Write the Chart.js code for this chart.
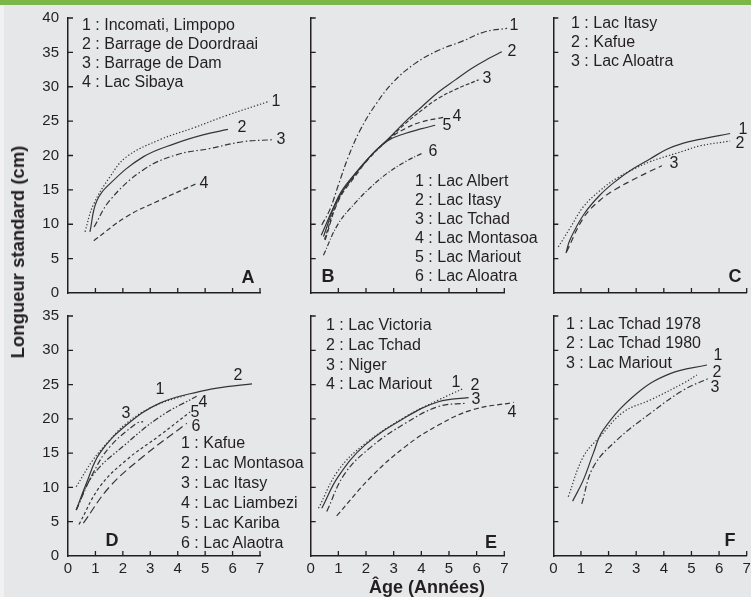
<!DOCTYPE html>
<html>
<head>
<meta charset="utf-8">
<script src="https://cdn.jsdelivr.net/npm/chart.js@4.4.1/dist/chart.umd.min.js"></script>
<style>
  html, body { margin:0; padding:0; }
  body { width:751px; height:597px; overflow:hidden; position:relative; background:#e6e7e8;
         font-family:"Liberation Sans", Arial, Helvetica, sans-serif; color:#231f20; }
  #topbar { position:absolute; left:0; top:0; width:751px; height:5px; background:#7ab648; }
  #leftstrip { position:absolute; left:0; top:5px; width:4px; height:592px; background:#f1f1f2; }
  canvas { position:absolute; left:0; top:0; }
  .leg { position:absolute; font-size:16px; white-space:nowrap; }
  .c { position:absolute; transform:translate(-50%,-50%); white-space:nowrap; font-size:16px; }
  .p { position:absolute; transform:translate(-50%,-50%); font-weight:bold; font-size:18px; }
  .ttl { position:absolute; font-weight:bold; font-size:18px; white-space:nowrap; transform:translate(-50%,-50%); }
</style>
</head>
<body>
<div id="topbar"></div>
<div id="leftstrip"></div>
<canvas id="cA" width="800" height="597"></canvas>
<canvas id="cB" width="800" height="597"></canvas>
<canvas id="cC" width="800" height="597"></canvas>
<canvas id="cD" width="800" height="597"></canvas>
<canvas id="cE" width="800" height="597"></canvas>
<canvas id="cF" width="800" height="597"></canvas>
<div id="texts"></div>
<script>
// ---------- DATA (age in years, standard length in cm) ----------
const xTicks = [0, 1, 2, 3, 4, 5, 6, 7];
const yTicksTop = [0, 5, 10, 15, 20, 25, 30, 35, 40];
const yTicksBottom = [0, 5, 10, 15, 20, 25, 30, 35];

// Panel A
const legendA = ["1 : Incomati, Limpopo", "2 : Barrage de Doordraai", "3 : Barrage de Dam", "4 : Lac Sibaya"];
const A1 = [[0.62,8.9],[0.92,12.8],[1.53,16.9],[2.13,19.8],[3.35,22.3],[4.56,24.0],[5.77,25.8],[7.35,27.9]];
const A2 = [[0.8,8.9],[1.04,13.3],[1.53,15.9],[2.74,19.8],[3.95,21.8],[4.92,23.0],[5.83,23.8]];
const A3 = [[0.95,9.6],[1.53,13.5],[2.74,17.9],[3.95,20.1],[5.16,21.0],[6.37,22.0],[7.47,22.3]];
const A4 = [[0.94,7.6],[2.13,11.1],[3.35,13.5],[4.68,15.9]];

// Panel B
const legendB = ["1 : Lac Albert", "2 : Lac Itasy", "3 : Lac Tchad", "4 : Lac Montasoa", "5 : Lac Mariout", "6 : Lac Aloatra"];
const B1 = [[0.4,9.9],[0.7,12.2],[1.0,15.7],[1.36,19.8],[1.79,23.7],[2.33,27.3],[2.99,30.7],[3.78,33.4],[4.62,35.3],[5.47,36.6],[6.3,38.0],[7.1,38.5]];
const B2 = [[0.46,8.2],[1.0,14.0],[1.61,17.4],[2.2,20.1],[2.8,22.4],[3.41,24.9],[4.02,27.1],[4.61,29.2],[5.23,31.0],[5.83,32.7],[6.43,34.1],[6.91,35.1]];
const B3 = [[0.5,7.8],[1.0,13.6],[1.61,17.2],[2.2,20.0],[2.8,22.3],[3.41,24.6],[4.02,26.6],[4.61,28.3],[5.23,29.6],[6.07,31.0]];
const B4 = [[0.52,7.7],[1.0,13.4],[1.61,17.0],[2.2,20.0],[2.8,22.3],[3.41,23.9],[4.02,24.9],[4.87,25.6]];
const B5 = [[0.38,8.4],[1.0,13.8],[1.61,17.3],[2.2,20.1],[2.8,22.2],[3.41,23.2],[4.02,23.9],[4.5,24.4]];
const B6 = [[0.46,5.5],[1.0,10.1],[1.61,13.1],[2.2,15.5],[2.8,17.5],[3.42,19.1],[4.02,20.3]];

// Panel C
const legendC = ["1 : Lac Itasy", "2 : Kafue", "3 : Lac Aloatra"];
const C1 = [[0.46,5.8],[0.6,7.7],[1.09,11.35],[1.69,14.25],[2.3,16.4],[2.9,18.1],[3.5,19.5],[4.11,20.9],[4.71,21.8],[5.3,22.35],[6.4,23.2]];
const C2 = [[0.18,6.7],[0.6,9.4],[1.09,12.55],[1.69,14.9],[2.3,16.7],[2.9,18.0],[3.5,19.1],[4.11,19.9],[4.71,20.65],[5.3,21.4],[6.4,22.1]];
const C3 = [[0.48,6.0],[1.09,10.9],[1.69,13.5],[2.3,15.2],[2.9,16.5],[3.5,17.7],[3.93,18.5]];

// Panel D
const legendD = ["1 : Kafue", "2 : Lac Montasoa", "3 : Lac Itasy", "4 : Lac Liambezi", "5 : Lac Kariba", "6 : Lac Alaotra"];
const D1 = [[0.3,10.1],[0.91,14.0],[1.52,16.9],[2.13,19.35],[3.1,21.8],[4.33,23.5]];
const D2 = [[0.3,6.7],[0.67,10.6],[1.16,15.0],[2.13,19.1],[3.35,22.3],[4.82,24.0],[5.79,24.7],[6.71,25.1]];
const D3 = [[0.3,6.7],[0.91,12.05],[1.52,15.9],[2.5,19.35],[2.74,19.6]];
const D4 = [[0.3,6.7],[0.91,11.8],[2.13,16.4],[3.35,20.3],[4.69,23.3]];
const D5 = [[0.4,4.6],[1.16,10.1],[2.13,14.0],[3.35,17.6],[4.45,21.0]];
const D6 = [[0.56,4.8],[1.52,10.1],[2.74,14.5],[4.33,19.35]];

// Panel E
const legendE = ["1 : Lac Victoria", "2 : Lac Tchad", "3 : Niger", "4 : Lac Mariout"];
const E1 = [[0.28,6.95],[1.0,12.5],[1.97,16.4],[3.42,20.3],[4.62,22.75],[5.53,24.45]];
const E2 = [[0.4,6.95],[1.0,11.6],[1.97,16.2],[3.42,20.2],[4.62,22.5],[5.71,23.1]];
const E3 = [[0.58,6.5],[1.24,12.05],[2.2,15.95],[3.42,19.35],[4.62,21.8],[5.65,22.3]];
const E4 = [[0.94,5.85],[2.2,11.6],[3.42,15.95],[4.62,19.1],[5.83,21.3],[7.34,22.4]];

// Panel F
const legendF = ["1 : Lac Tchad 1978", "2 : Lac Tchad 1980", "3 : Lac Mariout"];
const F1 = [[0.7,8.0],[1.09,11.1],[1.45,15.0],[1.81,18.4],[3.02,23.7],[4.23,26.6],[5.56,27.85]];
const F2 = [[0.54,8.65],[1.09,14.5],[1.69,17.4],[2.54,21.0],[3.51,22.75],[4.71,25.2],[5.2,26.4]];
const F3 = [[1.03,7.6],[1.45,13.0],[2.3,16.9],[3.51,20.8],[4.71,24.2],[5.62,25.9]];

// ---------- STYLES ----------
const AXIS = '#231f20';
const LINE = '#353535';
const SOLID = [], DOT = [1.3, 2], DASH = [5, 3], DASHDOT = [6, 2.5, 1.5, 2.5],
      DASHDOTDOT = [6, 2, 1.5, 2, 1.5, 2], SHORTDASH = [3, 2.5], LONGDASH = [8, 4];

const inwardTicks = {
  id: 'inwardTicks',
  afterDraw(chart) {
    const { ctx, chartArea, scales } = chart;
    const x = scales.x, y = scales.y;
    ctx.save();
    ctx.strokeStyle = AXIS;
    ctx.lineWidth = 1.3;
    ctx.beginPath();
    x.ticks.forEach(t => {
      if (t.value === 0) return;
      const px = x.getPixelForValue(t.value);
      ctx.moveTo(px, chartArea.bottom);
      ctx.lineTo(px, chartArea.bottom - 5);
    });
    y.ticks.forEach(t => {
      if (t.value === 0) return;
      const py = y.getPixelForValue(t.value);
      ctx.moveTo(chartArea.left, py);
      ctx.lineTo(chartArea.left + 5, py);
    });
    ctx.stroke();
    ctx.restore();
  }
};

const Y_W = 50, X_H = 30;
function makeChart(id, area, yMax, showY, showX, series, dashes) {
  const datasets = series.map((s, i) => ({
    data: s.map(p => ({ x: p[0], y: p[1] })),
    borderColor: LINE,
    borderWidth: 1.2,
    borderDash: dashes[i],
    pointRadius: 0,
    tension: 0.4,
    fill: false,
    clip: false
  }));
  const font = { family: '"Liberation Sans", Arial, sans-serif', size: 15 };
  const pad = { left: area.left - Y_W, right: W - area.right, top: area.top, bottom: H - area.bottom - X_H };
  return new Chart(document.getElementById(id), {
    type: 'line',
    data: { datasets },
    plugins: [inwardTicks],
    options: {
      responsive: false,
      animation: false,
      devicePixelRatio: 1,
      events: [],
      layout: { padding: pad },
      plugins: { legend: { display: false }, tooltip: { enabled: false } },
      scales: {
        x: {
          type: 'linear', min: 0, max: 7,
          afterBuildTicks: sc => { sc.ticks = xTicks.map(v => ({ value: v })); },
          afterFit: sc => { sc.height = X_H; },
          ticks: { display: showX, padding: 4, color: AXIS, font, maxRotation: 0, autoSkip: false },
          grid: { display: true, drawOnChartArea: false, drawTicks: false, color: 'rgba(0,0,0,0)' },
          border: { display: true, color: AXIS, width: 1.5 }
        },
        y: {
          type: 'linear', min: 0, max: yMax,
          afterBuildTicks: sc => { sc.ticks = (yMax === 40 ? yTicksTop : yTicksBottom).map(v => ({ value: v })); },
          afterFit: sc => { sc.width = Y_W; },
          ticks: { display: showY, padding: 9, color: AXIS, font, autoSkip: false },
          grid: { display: true, drawOnChartArea: false, drawTicks: false, color: 'rgba(0,0,0,0)' },
          border: { display: true, color: AXIS, width: 1.5 }
        }
      }
    }
  });
}

const W = 800, H = 597;
const topArea = (l, r) => ({ left: l, right: r, top: 18, bottom: 293 });
const botArea = (l, r) => ({ left: l, right: r, top: 316, bottom: 556 });

makeChart('cA', topArea(68, 260), 40, true, false, [A1, A2, A3, A4], [DOT, SOLID, DASHDOT, DASH]);
makeChart('cB', topArea(310.7, 504.3), 40, false, false, [B1, B2, B3, B4, B5, B6], [DASHDOT, SOLID, [4, 2], DASH, SOLID, [5, 2, 1, 2]]);
makeChart('cC', topArea(553.3, 746.7), 40, false, false, [C1, C2, C3], [SOLID, DOT, [6, 4]]);
makeChart('cD', botArea(68, 260), 35, true, true, [D1, D2, D3, D4, D5, D6], [DOT, SOLID, DASHDOT, DASHDOTDOT, SHORTDASH, LONGDASH]);
makeChart('cE', botArea(310.7, 504.3), 35, false, true, [E1, E2, E3, E4], [DOT, SOLID, DASHDOT, DASH]);
makeChart('cF', botArea(553.3, 746.7), 35, false, true, [F1, F2, F3], [SOLID, DOT, DASHDOT]);

// ---------- TEXT ----------
const texts = document.getElementById('texts');
function add(cls, txt, left, top, extra) {
  const d = document.createElement('div');
  d.className = cls;
  d.textContent = txt;
  d.style.left = left + 'px';
  d.style.top = top + 'px';
  if (extra) Object.assign(d.style, extra);
  texts.appendChild(d);
}
function legend(lines, left, top, lh) {
  const d = document.createElement('div');
  d.className = 'leg';
  d.style.left = left + 'px';
  d.style.top = top + 'px';
  d.style.lineHeight = lh + 'px';
  d.innerHTML = lines.map(s => '<div>' + s + '</div>').join('');
  texts.appendChild(d);
}
legend(legendA, 82, 14.5, 19.2);
legend(legendB, 415, 170.5, 19.1);
legend(legendC, 571, 14, 18.8);
legend(legendD, 181, 433.3, 20);
legend(legendE, 326, 315, 19.8);
legend(legendF, 566, 313.5, 19.7);

// panel letters
[['A',248,277],['B',328,276],['C',735,276],['D',112,540],['E',491,542],['F',730,540]]
  .forEach(p => add('p', p[0], p[1], p[2]));

// curve numbers
[
 ['1',276,101],['2',242,127],['3',281,139],['4',204,183],
 ['1',514,25],['2',512,51],['3',487,78],['4',457,116],['5',447,125],['6',433,151],
 ['1',743,129],['2',740,143],['3',674,163],
 ['2',238,375],['1',160,389],['3',126,413],['4',203,402],['5',195,412],['6',196,426],
 ['1',456,382],['2',475,385],['3',476,399],['4',512,412],
 ['1',718,355],['2',717,372],['3',715,387]
].forEach(p => add('c', p[0], p[1], p[2]));

// axis titles
add('ttl', 'Longueur standard (cm)', 18, 252, { transform: 'translate(-50%,-50%) rotate(-90deg)', fontSize: '18.5px' });
add('ttl', 'Âge (Années)', 427, 587);
</script>
</body>
</html>
